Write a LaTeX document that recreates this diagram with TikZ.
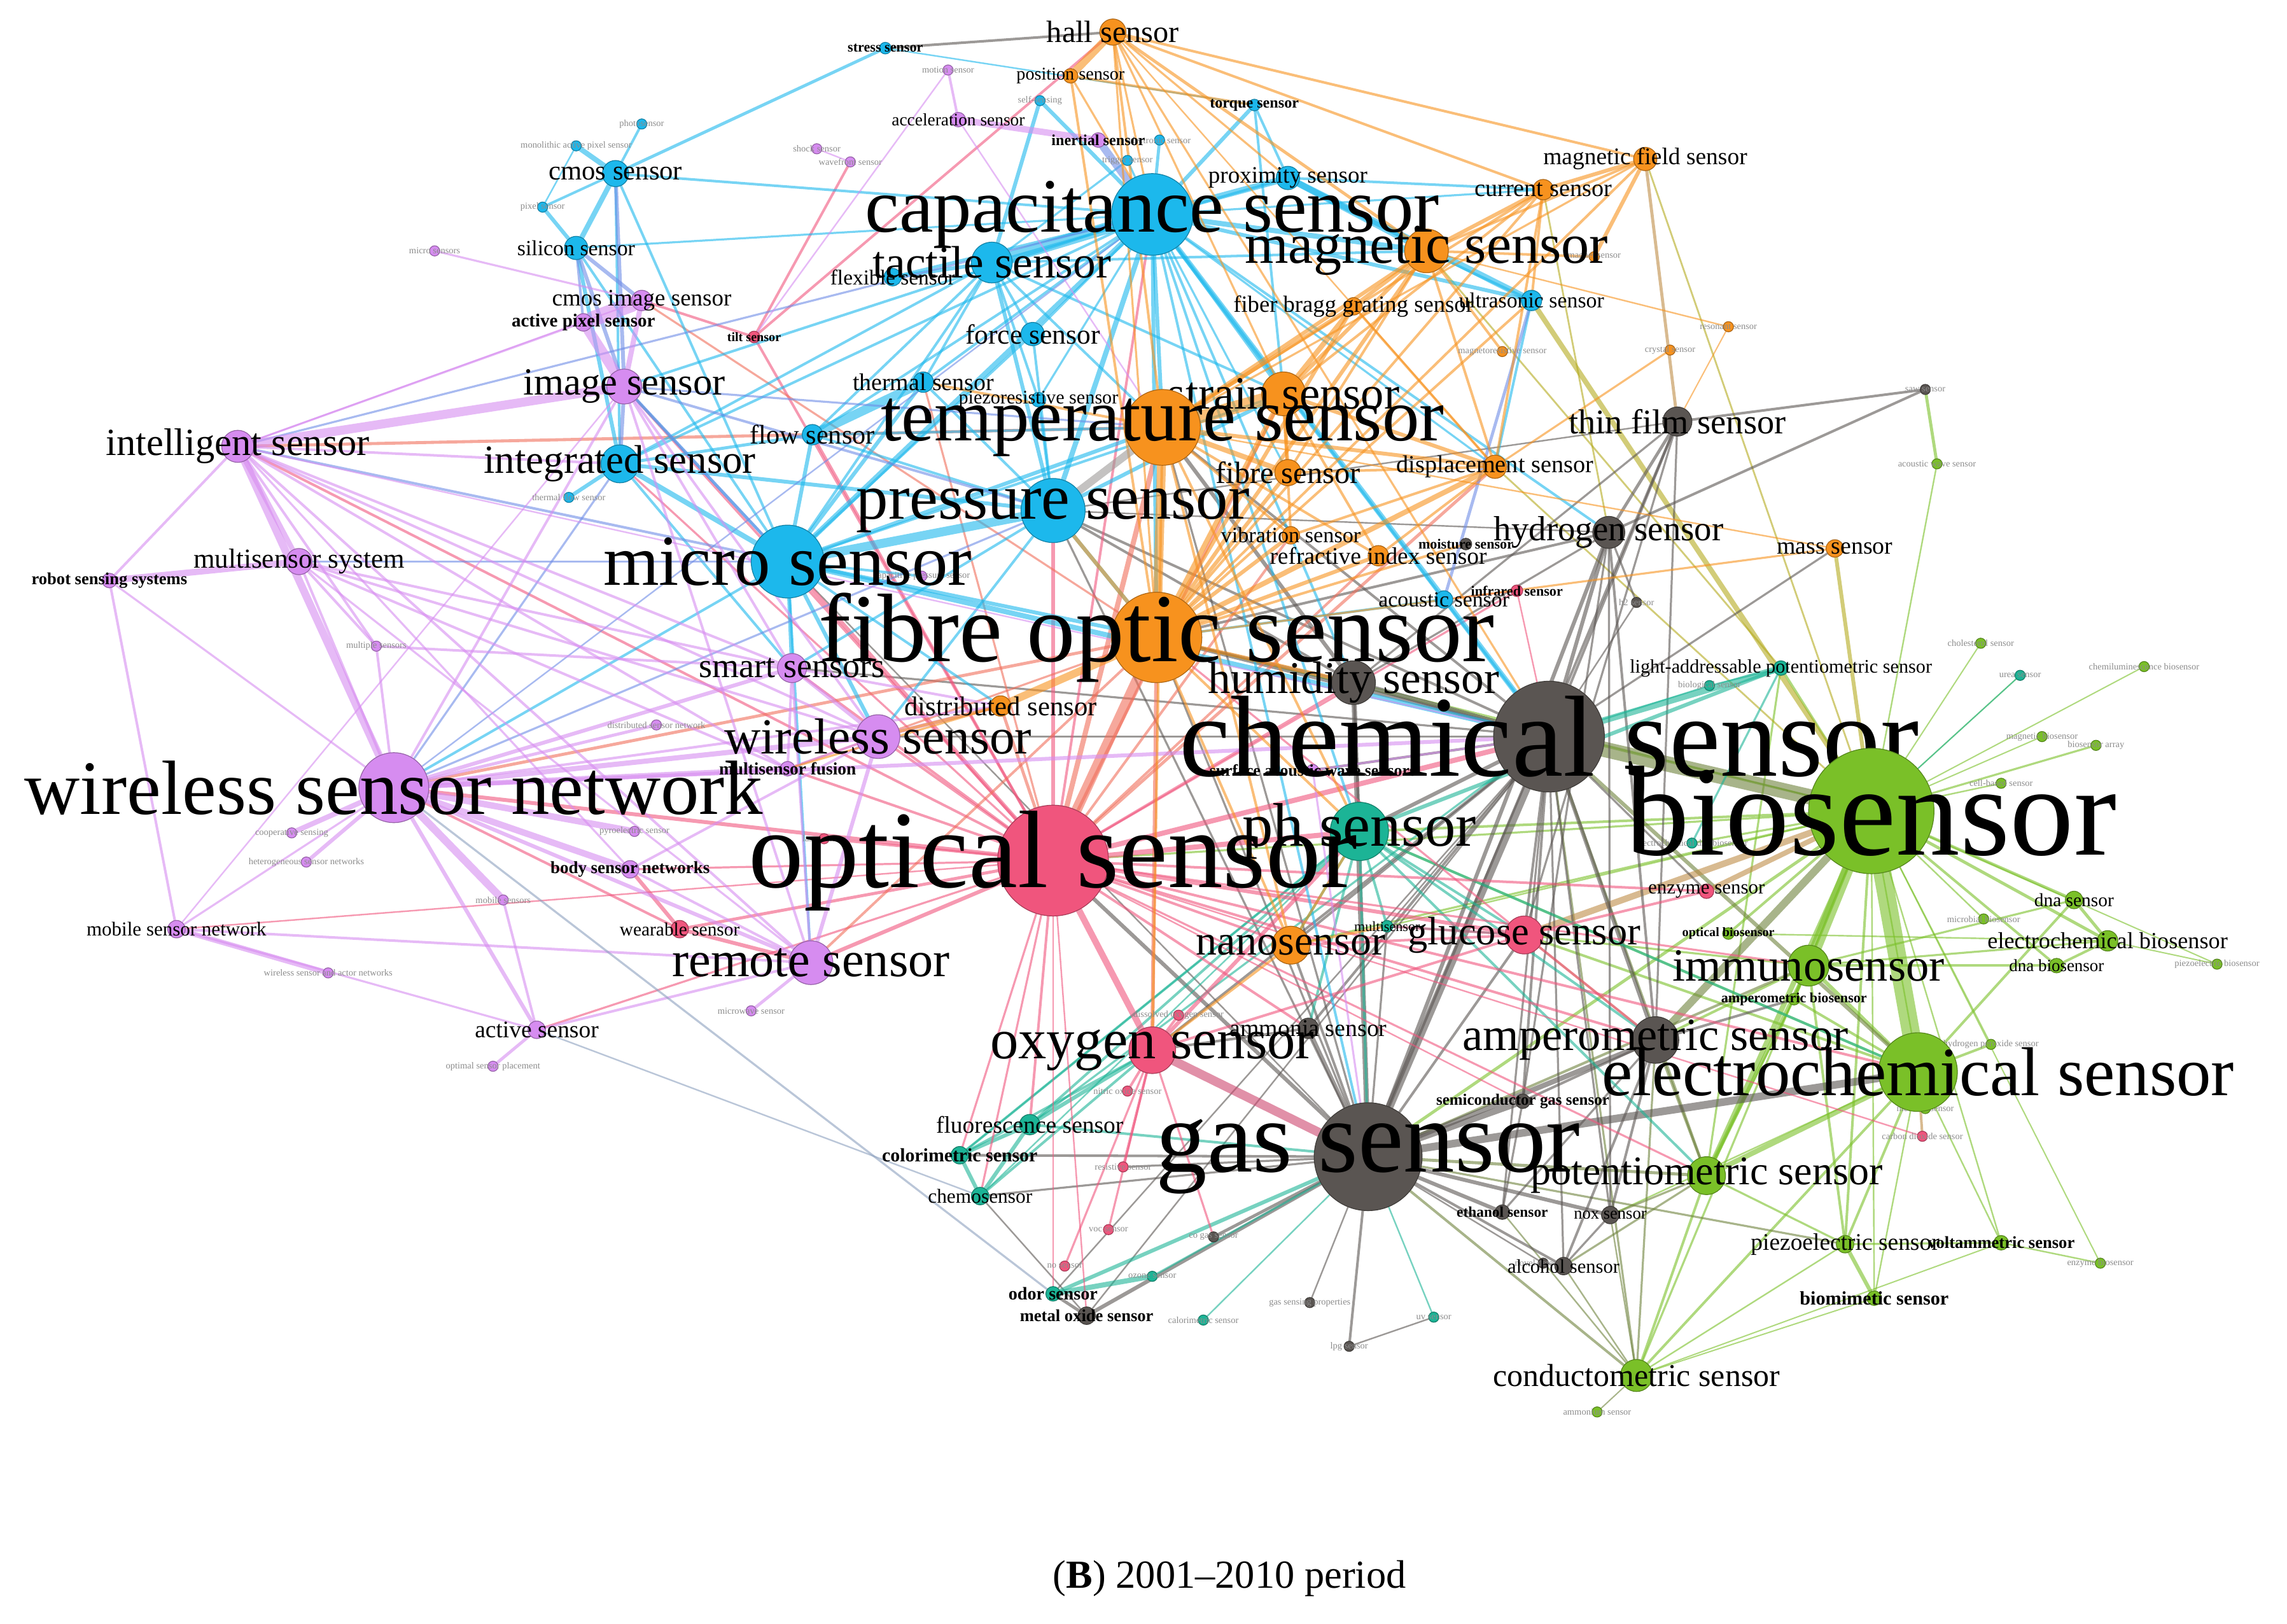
\documentclass[tikz,border=0pt]{standalone}
\usepackage{fontspec}
\setmainfont{Liberation Serif}
\usetikzlibrary{backgrounds}
\definecolor{cB}{RGB}{28,184,236}
\definecolor{cO}{RGB}{247,146,30}
\definecolor{cV}{RGB}{214,140,240}
\definecolor{cP}{RGB}{240,85,125}
\definecolor{cPd}{RGB}{205,70,110}
\definecolor{cG}{RGB}{90,85,82}
\definecolor{cT}{RGB}{28,180,150}
\definecolor{cL}{RGB}{122,192,40}
\definecolor{cY}{RGB}{180,170,30}
\definecolor{cBr}{RGB}{190,140,70}
\definecolor{cBV}{RGB}{110,140,230}
\definecolor{cOl}{RGB}{110,130,60}
\definecolor{cR}{RGB}{240,110,90}
\definecolor{cSt}{RGB}{140,160,190}
\tikzset{
  vtx/.style={circle, inner sep=0pt, line width=0.3pt},
  lbl/.style={inner sep=0pt, text=black, anchor=center},
  tinylbl/.style={inner sep=0pt, text=black!45, anchor=center, font=\fontsize{3.6pt}{4pt}\selectfont},
  edge/.style={draw opacity=0.6, line cap=round},
}
\newcommand\nn[7]{%
  \node[vtx, fill=#4, draw=#4!70!black, minimum size=#5*0.04cm] (#1) at (#2,#3) {};
  \node[lbl, font=\fontsize{#6pt}{#6pt}\selectfont] (#1-l) at (#2,#3) {#7};}
\newcommand\tn[5]{%
  \node[vtx, fill=#4, draw=#4!70!black, minimum size=0.14cm] (#1) at (#2,#3) {};
  \node[tinylbl] (#1-l) at (#2,#3) {#5};}
\begin{document}
\begin{tikzpicture}[x=0.02cm,y=-0.02cm]
\useasboundingbox (0,0) rectangle (1568,1113);
% ---------- tiny nodes ----------
\tn{photo}{440}{85}{cB}{photosensor}
\tn{mono}{395}{100}{cB}{monolithic active pixel sensor}
\tn{pixel}{372}{142}{cB}{pixel sensor}
\tn{microsph}{298}{172}{cV}{micro sensors}
\tn{motion}{650}{48}{cV}{motion sensor}
\tn{selfs}{713}{69}{cB}{self-sensing}
\tn{wave}{583}{111}{cV}{wavefront sensor}
\tn{shock}{560}{102}{cV}{shock sensor}
\tn{elec}{795}{96}{cB}{electronic sensor}
\tn{trig}{773}{110}{cB}{trigger sensor}
\tn{tfs}{390}{341}{cB}{thermal flow sensor}
\tn{multiple}{258}{443}{cV}{multiple sensors}
\tn{distnet}{450}{497}{cV}{distributed sensor network}
\tn{pyro}{435}{570}{cV}{pyroelectric sensor}
\tn{coop}{200}{571}{cV}{cooperative sensing}
\tn{hetero}{210}{591}{cV}{heterogeneous sensor networks}
\tn{mobsens}{345}{617}{cV}{mobile sensors}
\tn{wsan}{225}{667}{cV}{wireless sensor and actor networks}
\tn{optplace}{338}{731}{cV}{optimal sensor placement}
\tn{microwave}{515}{693}{cV}{microwave sensor}
\tn{laser}{565}{575}{cP}{laser sensor}
\tn{capacit}{632}{395}{cV}{capacitive pressure sensor}
\tn{dissox}{808}{696}{cP}{dissolved oxygen sensor}
\tn{nitric}{773}{748}{cP}{nitric oxide sensor}
\tn{resist}{770}{800}{cP}{resistive sensor}
\tn{voc}{760}{843}{cP}{voc sensor}
\tn{nosens}{730}{868}{cP}{no sensor}
\tn{cogas}{832}{848}{cG}{co gas sensor}
\tn{ozone}{790}{875}{cT}{ozone sensor}
\tn{calori}{825}{905}{cT}{calorimetric sensor}
\tn{gsp}{898}{893}{cG}{gas sensing properties}
\tn{uv}{983}{903}{cT}{uv sensor}
\tn{lpg}{925}{923}{cG}{lpg sensor}
\tn{nanost}{1058}{866}{cG}{novel detection}
\tn{magsm}{1093}{176}{cO}{magnet sensor}
\tn{magres}{1030}{241}{cO}{magnetoresistive sensor}
\tn{crystal}{1145}{240}{cO}{crystal sensor}
\tn{reson}{1185}{224}{cO}{resonant sensor}
\tn{saw}{1320}{267}{cG}{saw sensor}
\tn{acwave}{1328}{318}{cL}{acoustic wave sensor}
\tn{h2}{1122}{413}{cG}{h2 sensor}
\tn{biol}{1172}{470}{cT}{biological sensor}
\tn{chol}{1358}{441}{cL}{cholesterol sensor}
\tn{urea}{1385}{463}{cT}{urea sensor}
\tn{chemil}{1470}{457}{cL}{chemiluminescence biosensor}
\tn{magnbio}{1400}{505}{cL}{magnetic biosensor}
\tn{arr}{1437}{511}{cL}{biosensor array}
\tn{cellb}{1372}{537}{cL}{cell-based sensor}
\tn{ecdna}{1160}{578}{cT}{electrochemical dna biosensor}
\tn{micbio}{1360}{630}{cL}{microbial biosensor}
\tn{piezobio}{1520}{661}{cL}{piezoelectric biosensor}
\tn{h2o2}{1365}{716}{cL}{hydrogen peroxide sensor}
\tn{meth}{1320}{760}{cL}{methane sensor}
\tn{co2}{1318}{779}{cP}{carbon dioxide sensor}
\tn{enzbio}{1440}{866}{cL}{enzyme biosensor}
\tn{ammonium}{1095}{968}{cL}{ammonium sensor}
% ---------- small nodes ----------
\nn{hall}{763}{22}{cO}{9}{12}{hall sensor}
\nn{pos}{734}{52}{cO}{5}{7}{position sensor}
\nn{stress}{607}{33}{cB}{4}{5.5}{\bfseries stress sensor}
\nn{accel}{657}{82}{cV}{5}{6.8}{acceleration sensor}
\nn{inert}{753}{96}{cV}{5}{6}{\bfseries inertial sensor}
\nn{torque}{860}{72}{cB}{4}{6}{\bfseries torque sensor}
\nn{prox}{883}{122}{cB}{8}{9.2}{proximity sensor}
\nn{current}{1058}{130}{cO}{7}{9.5}{current sensor}
\nn{magfield}{1128}{109}{cO}{8}{9.3}{magnetic field sensor}
\nn{cmos}{422}{119}{cB}{9}{10.6}{cmos sensor}
\nn{silicon}{395}{170}{cB}{8}{8.4}{silicon sensor}
\nn{cmosimg}{440}{206}{cV}{7}{9.2}{cmos image sensor}
\nn{aps}{400}{221}{cV}{6}{7.2}{\bfseries active pixel sensor}
\nn{flex}{612}{190}{cB}{6}{8.3}{flexible sensor}
\nn{force}{708}{229}{cB}{8}{10.8}{force sensor}
\nn{tilt}{517}{231}{cP}{4}{5}{\bfseries tilt sensor}
\nn{thermal}{633}{262}{cB}{7}{9.4}{thermal sensor}
\nn{piezores}{712}{274}{cB}{5}{7.5}{piezoresistive sensor}
\nn{flow}{557}{298}{cB}{7}{10.5}{flow sensor}
\nn{fbg}{928}{210}{cO}{6}{9.1}{fiber bragg grating sensor}
\nn{ultra}{1050}{206}{cB}{7}{8.4}{ultrasonic sensor}
\nn{fibre}{883}{324}{cO}{9}{12}{fibre sensor}
\nn{disp}{1025}{320}{cO}{8}{9.5}{displacement sensor}
\nn{vib}{885}{367}{cO}{6}{8.5}{vibration sensor}
\nn{refr}{945}{381}{cO}{7}{9.3}{refractive index sensor}
\nn{moist}{1005}{373}{cG}{4}{5.5}{\bfseries moisture sensor}
\nn{mass}{1258}{376}{cO}{6}{9.4}{mass sensor}
\nn{acou}{990}{411}{cB}{6}{8.4}{acoustic sensor}
\nn{infra}{1040}{405}{cP}{4}{5.5}{\bfseries infrared sensor}
\nn{laps}{1221}{458}{cT}{5}{7.5}{light-addressable potentiometric sensor}
\nn{dist}{686}{484}{cO}{7}{10.6}{distributed sensor}
\nn{saws}{900}{528}{cV}{4}{6.4}{\bfseries surface acoustic wave sensors}
\nn{msfus}{540}{527}{cV}{5}{6.8}{\bfseries multisensor fusion}
\nn{bsn}{432}{596}{cV}{6}{6.7}{\bfseries body sensor networks}
\nn{wear}{466}{637}{cP}{6}{7.3}{wearable sensor}
\nn{msn}{121}{637}{cV}{6}{7.7}{mobile sensor network}
\nn{active}{368}{706}{cV}{6}{9.3}{active sensor}
\nn{robot}{75}{398}{cV}{5}{6.6}{\bfseries robot sensing systems}
\nn{enz}{1170}{611}{cP}{5}{7.7}{enzyme sensor}
\nn{dnas}{1422}{617}{cL}{6}{7.3}{dna sensor}
\nn{ecbio}{1445}{645}{cL}{7}{9}{electrochemical biosensor}
\nn{dnabio}{1410}{662}{cL}{5}{6.7}{dna biosensor}
\nn{ampbio}{1230}{685}{cL}{4}{5.5}{\bfseries amperometric biosensor}
\nn{optbio}{1185}{640}{cL}{4}{5}{\bfseries optical biosensor}
\nn{multis}{951}{635}{cT}{4}{5.5}{multisensor}
\nn{ammo}{897}{705}{cG}{7}{9.4}{ammonia sensor}
\nn{fluor}{706}{771}{cT}{7}{9.3}{fluorescence sensor}
\nn{color}{658}{792}{cT}{6}{7.4}{\bfseries colorimetric sensor}
\nn{chemo}{672}{820}{cT}{6}{7.8}{chemosensor}
\nn{semi}{1044}{755}{cG}{5}{6.2}{\bfseries semiconductor gas sensor}
\nn{ethanol}{1030}{831}{cG}{5}{5.8}{\bfseries ethanol sensor}
\nn{nox}{1104}{833}{cG}{6}{6.6}{nox sensor}
\nn{alco}{1072}{868}{cG}{6}{7.6}{alcohol sensor}
\nn{odor}{722}{887}{cT}{5}{7}{\bfseries odor sensor}
\nn{mox}{745}{902}{cG}{6}{6.6}{\bfseries metal oxide sensor}
\nn{piezoel}{1265}{853}{cL}{6}{9.3}{piezoelectric sensor}
\nn{volt}{1372}{852}{cL}{5}{6.6}{\bfseries voltammetric sensor}
\nn{biomim}{1285}{890}{cL}{5}{7.5}{\bfseries biomimetic sensor}
% ---------- medium / large nodes ----------
\nn{mss}{205}{385}{cV}{9}{10.7}{multisensor system}
\nn{smart}{543}{458}{cV}{10}{13.4}{smart sensors}
\nn{img}{428}{265}{cV}{12}{15}{image sensor}
\nn{intel}{163}{306}{cV}{11}{15}{intelligent sensor}
\nn{integ}{425}{318}{cB}{13}{15.6}{integrated sensor}
\nn{tact}{680}{180}{cB}{14}{17.7}{tactile sensor}
\nn{thin}{1150}{289}{cG}{10}{13.5}{thin film sensor}
\nn{hyd}{1103}{365}{cG}{11}{13.6}{hydrogen sensor}
\nn{cond}{1122}{943}{cL}{11}{12.4}{conductometric sensor}
\nn{nano}{885}{648}{cO}{13}{16.4}{nanosensor}
\nn{gluc}{1045}{641}{cP}{13}{15.5}{glucose sensor}
\nn{immuno}{1240}{662}{cL}{14}{18}{immunosensor}
\nn{pot}{1170}{806}{cL}{13}{15.9}{potentiometric sensor}
\nn{amp}{1135}{713}{cG}{16}{18}{amperometric sensor}
\nn{strain}{880}{270}{cO}{15}{18}{strain sensor}
\nn{mag}{978}{172}{cO}{15}{21.9}{magnetic sensor}
\nn{hum}{928}{468}{cG}{15}{17.7}{humidity sensor}
\nn{wsens}{602}{505}{cV}{15}{19.7}{wireless sensor}
\nn{remote}{556}{660}{cV}{15}{19.4}{remote sensor}
\nn{oxy}{790}{720}{cP}{16}{22}{oxygen sensor}
\nn{ph}{932}{570}{cT}{20}{24}{ph sensor}
\nn{press}{722}{350}{cB}{22}{25}{pressure sensor}
\nn{micro}{540}{385}{cB}{25}{28}{micro sensor}
\nn{wsn}{270}{540}{cV}{24}{30}{wireless sensor network}
\nn{echem}{1315}{735}{cL}{27}{27}{electrochemical sensor}
\nn{cap}{790}{147}{cB}{28}{30}{capacitance sensor}
\nn{temp}{797}{293}{cO}{26}{29}{temperature sensor}
\nn{fos}{793}{437}{cO}{31}{38}{fibre optic sensor}
\nn{gas}{938}{793}{cG}{37}{40}{gas sensor}
\nn{opt}{722}{590}{cP}{38}{43}{optical sensor}
\nn{chem}{1062}{505}{cG}{38}{45}{chemical sensor}
\nn{bio}{1283}{556}{cL}{43}{50}{biosensor}
% caption
\node[lbl, font=\fontsize{15.5pt}{18pt}\selectfont] (caption) at (843,1082) {(\textbf{B}) 2001–2010 period};
% ---------- edges ----------
\begin{scope}[on background layer]
\foreach \a/\b/\w in {bio/echem/7, bio/immuno/4.5, bio/pot/2, bio/dnas/1.2, bio/ecbio/1.2, bio/dnabio/1, bio/ampbio/1, bio/optbio/1, bio/laps/1, bio/cond/0.8, bio/piezoel/1, bio/biomim/0.6, bio/meth/0.6, bio/arr/0.8, bio/cellb/0.6, bio/micbio/0.6, bio/chemil/0.5, bio/urea/0.5, bio/magnbio/0.5, bio/piezobio/0.5, bio/h2o2/0.5, bio/volt/0.6, bio/acwave/0.6, bio/chol/0.5, bio/ecdna/0.8, bio/gas/1.2, bio/ph/1, bio/opt/0.8, bio/nano/0.8, bio/hum/0.6, bio/fos/0.8, bio/multis/0.6, bio/enzbio/0.5, echem/pot/2, echem/immuno/1.5, echem/cond/1, echem/piezoel/1, echem/h2o2/1, echem/meth/1, echem/dnas/1, echem/gluc/1, echem/ampbio/1, echem/volt/0.6, echem/biomim/0.6, echem/ph/1, echem/nox/0.6, immuno/ampbio/1, immuno/pot/1.5, immuno/dnabio/1, immuno/dnas/0.8, immuno/piezoel/1, immuno/gluc/0.8, immuno/ecbio/0.8, immuno/amp/1, ecbio/dnas/1.2, ecbio/dnabio/1, ecbio/piezobio/0.5, ecbio/optbio/0.6, pot/cond/1, pot/piezoel/0.8, pot/laps/0.8, pot/ampbio/0.8, piezoel/biomim/1.5, piezoel/volt/0.8, volt/enzbio/0.6, piezoel/cond/0.6, volt/cond/0.5, biomim/cond/0.5, saw/acwave/1.2}
  \draw[edge, draw=cL, line width=\w pt] (\a) -- (\b);
\foreach \a/\b/\w in {bio/chem/6, bio/amp/3, cond/gas/1, cond/chem/0.8, cond/amp/0.8, cond/alco/0.6, cond/nox/0.6, cond/ethanol/0.6, cond/ammonium/0.5, pot/gas/1.2, pot/chem/1, chem/echem/1.5, pot/amp/1, pot/nox/0.8, pot/alco/0.8, gas/piezoel/0.8, gas/immuno/1}
  \draw[edge, draw=cOl, line width=\w pt] (\a) -- (\b);
\foreach \a/\b/\w in {bio/gluc/2.5, bio/enz/2, echem/co2/1, amp/gluc/0.8, thin/magfield/1.2}
  \draw[edge, draw=cBr, line width=\w pt] (\a) -- (\b);
\foreach \a/\b/\w in {ultra/bio/2, magfield/bio/0.7, mass/bio/1.5, disp/bio/0.7, current/hyd/0.7, mag/laps/0.7}
  \draw[edge, draw=cY, line width=\w pt] (\a) -- (\b);
\foreach \a/\b/\w in {gas/echem/3, chem/gas/3, chem/hum/2, chem/hyd/1.5, chem/thin/1, chem/amp/1.5, chem/ph/1.5, chem/fos/1.5, chem/temp/1, chem/press/1, chem/gluc/1, chem/nano/1, chem/oxy/1, chem/ammo/1, chem/semi/1, chem/saws/1, chem/mass/0.8, chem/ethanol/0.8, chem/nox/0.8, chem/alco/0.8, chem/multis/0.6, chem/smart/0.8, chem/wsens/0.8, chem/h2/0.6, chem/enz/0.8, chem/mox/0.6, chem/odor/0.6, gas/hum/2, gas/hyd/1.5, gas/amp/2, gas/semi/2.5, gas/ammo/1.5, gas/ethanol/1.5, gas/nox/1.5, gas/alco/1, gas/mox/1.5, gas/lpg/1, gas/color/1, gas/chemo/0.8, gas/opt/1.5, gas/nano/1, gas/thin/1, gas/gluc/1, gas/multis/0.8, gas/temp/0.8, gas/fos/0.8, gas/cogas/1.2, gas/gsp/0.6, gas/nanost/0.6, gas/press/0.8, gas/micro/0.6, gas/resist/0.8, amp/ampbio/1, amp/hyd/1, amp/semi/1, amp/nox/1, amp/alco/1, amp/ethanol/0.8, amp/thin/0.8, hyd/thin/1.2, hyd/hum/0.8, hyd/fos/1, hyd/press/0.6, hyd/semi/0.8, hyd/nox/0.8, hyd/saw/1, thin/saw/1, hyd/h2/0.8, thin/hum/0.8, thin/press/0.6, thin/gluc/0.8, hum/temp/1.5, hum/press/1, hum/ph/1, hum/fos/1, ammo/oxy/1, semi/ethanol/0.8, nox/alco/0.8, mox/odor/1.2, mox/chemo/0.6, lpg/uv/0.6, hall/stress/1, nanost/alco/0.5}
  \draw[edge, draw=cG, line width=\w pt] (\a) -- (\b);
\foreach \a/\b/\w in {ph/fluor/1, ph/color/1, ph/ammo/1, ph/laps/1.5, ph/pot/1, ph/amp/1, ph/multis/1, ph/gluc/1, ph/nano/1, ph/echem/1, ph/gas/1, laps/chem/2.5, laps/ecdna/0.8, laps/biol/0.6, fluor/color/1.5, fluor/chemo/1.5, color/chemo/1.5, fluor/oxy/1.5, color/oxy/1, chemo/oxy/1, fluor/gas/1, odor/gas/1.5, odor/ozone/2, ozone/gas/0.8, calori/gas/0.6, uv/gas/0.6, multis/gluc/0.8, biol/chem/0.6, fluor/chem/0.8, chemo/ph/0.6, color/ph/0.6, urea/bio/0.5}
  \draw[edge, draw=cT, line width=\w pt] (\a) -- (\b);
\foreach \a/\b/\w in {opt/oxy/2.5, opt/ph/2, opt/gluc/1.5, opt/chem/2, opt/wsn/1.5, opt/press/1.5, opt/micro/1.5, opt/remote/1.5, opt/wsens/1, opt/intel/1, opt/img/1, opt/cap/1, opt/smart/1, opt/nano/1, opt/hum/1, opt/fluor/1, opt/color/0.8, opt/chemo/0.8, opt/ammo/1, opt/amp/1, opt/echem/1, opt/immuno/0.8, opt/active/0.8, opt/wear/1.2, opt/bsn/0.8, opt/msfus/1, opt/tilt/1, opt/flow/1, opt/integ/0.8, opt/mox/0.6, opt/odor/0.6, opt/pot/0.8, opt/co2/0.6, opt/semi/0.6, opt/laser/1, opt/enz/1, opt/infra/0.8, opt/msn/0.6, oxy/ph/1.5, oxy/nitric/1, oxy/resist/1, oxy/voc/0.8, oxy/nosens/0.8, oxy/gluc/1, oxy/dissox/1, oxy/cogas/0.8, gluc/enz/1, gluc/amp/1, gluc/nano/1, gluc/multis/1, gluc/fos/0.8, wear/bsn/1.5, wear/remote/1.5, wear/wsn/1, tilt/cmosimg/1, tilt/wave/1, hall/tilt/1, infra/acou/0.6, infra/chem/0.6}
  \draw[edge, draw=cP, line width=\w pt] (\a) -- (\b);
\draw[edge, draw=cPd, line width=3.5pt] (oxy) -- (gas);
\foreach \a/\b/\w in {opt/fos/4, opt/temp/2, opt/strain/1.2, opt/disp/1.2, opt/vib/1, opt/refr/1, opt/dist/1.2, opt/thermal/0.8, intel/temp/1.2, cmosimg/fos/0.8, wsn/fos/1.2, msfus/fos/0.8, remote/fos/1, oxy/fos/1.5}
  \draw[edge, draw=cR, line width=\w pt] (\a) -- (\b);
\foreach \a/\b/\w in {cap/tact/4.5, cap/press/2, cap/micro/2, cap/prox/2.5, cap/mag/2, cap/temp/1.5, cap/fos/1.5, cap/torque/1.5, cap/selfs/1.5, cap/force/1, cap/flex/1.2, cap/thermal/1, cap/strain/1, cap/hum/1, cap/ultra/1.5, cap/acou/1, cap/integ/1, cap/cmos/1, cap/img/1, cap/current/0.8, cap/fibre/0.8, cap/disp/0.8, cap/trig/0.8, cap/elec/1.2, cap/flow/1, cap/ph/1, cap/gas/1, cap/hyd/1, cap/piezores/0.8, cap/silicon/0.8, tact/flex/1.5, tact/force/1, tact/press/1.5, tact/micro/1, tact/thermal/1, tact/flow/1, tact/integ/1, tact/mag/1, tact/temp/1, tact/piezores/1, tact/strain/1, micro/press/3.5, micro/flow/1.5, micro/thermal/1.5, micro/integ/2, micro/smart/1.5, micro/wsens/1.5, micro/temp/1.5, micro/fos/1.5, micro/img/1, micro/cmos/1, micro/silicon/1, micro/wsn/1, micro/remote/1, micro/dist/1, micro/capacit/1, micro/force/1, micro/strain/1, flow/thermal/3.5, flow/press/1, flow/integ/1.2, flow/temp/1, press/force/1, press/piezores/1, press/thermal/1, press/integ/1.5, press/smart/1, press/wsens/1, press/strain/1.5, press/fos/1.5, cmos/silicon/2, cmos/mono/2, cmos/photo/1, cmos/pixel/1, cmos/integ/1, silicon/pixel/1.5, silicon/integ/1.5, mono/pixel/0.6, integ/tfs/1.5, integ/smart/1, prox/torque/1, prox/mag/2.5, prox/ultra/2.5, prox/current/1, prox/tact/1, torque/strain/1, ultra/mag/1, ultra/disp/1, acou/chem/1, acou/fos/1, stress/cmos/1.2, stress/torque/0.6, selfs/tact/1.5, trig/tact/0.8, chem/micro/2, chem/cap/2}
  \draw[edge, draw=cB, line width=\w pt] (\a) -- (\b);
\foreach \a/\b/\w in {inert/cap/3, intel/micro/1, img/micro/1.2, img/integ/1.5, cmos/img/1.5, silicon/img/1.5, silicon/cmosimg/1.5, silicon/aps/1, wsn/integ/0.8, mss/micro/0.8, ultra/acou/1.2, intel/cap/0.8, wsn/cap/0.6, wsn/press/0.8, img/press/1, img/temp/0.8}
  \draw[edge, draw=cBV, line width=\w pt] (\a) -- (\b);
\foreach \a/\b/\w in {wsn/intel/3, wsn/mss/1, wsn/robot/0.8, wsn/msn/0.8, wsn/active/1.5, wsn/remote/1.5, wsn/wsens/2, wsn/smart/1.5, wsn/msfus/2, wsn/bsn/2.5, wsn/mobsens/3, wsn/pyro/2.5, wsn/coop/2, wsn/hetero/1.5, wsn/img/1, wsn/distnet/1.2, wsn/multiple/1, wsn/chem/1.5, wsn/dist/1, intel/img/3.5, intel/mss/2, intel/robot/1, intel/wsens/1, intel/smart/1, intel/remote/1, intel/multiple/1, intel/integ/1, intel/aps/0.8, intel/msfus/1, intel/bsn/0.8, intel/cmosimg/0.6, intel/chem/0.6, img/aps/4, aps/cmosimg/6, img/cmosimg/2, img/remote/1, img/smart/1, img/wsens/1, img/msn/0.6, microsph/cmosimg/0.8, mss/robot/2.5, mss/msfus/1, mss/smart/1, mss/multiple/1, mss/wsens/1, mss/remote/0.8, msn/robot/1, msn/wsan/2, msn/remote/1, msn/active/0.8, remote/active/1, remote/bsn/1, remote/smart/1, remote/wsens/1.5, remote/microwave/1.2, active/optplace/1.2, active/mobsens/1, wsens/smart/1.5, wsens/dist/1.5, wsens/msfus/1, wsens/bsn/1, smart/msfus/1, smart/multiple/1, smart/dist/1, inert/accel/2.5, accel/motion/1, wave/shock/0.6, accel/temp/0.6, saws/gas/0.8, saws/chem/0.8, motion/tilt/0.6}
  \draw[edge, draw=cV, line width=\w pt] (\a) -- (\b);
\draw[edge, draw=cSt, line width=0.8pt] (wsn) -- (odor);
\draw[edge, draw=cSt, line width=0.6pt] (active) -- (chemo);
\foreach \a/\b/\w in {fos/temp/3.5, fos/strain/2, fos/fibre/1.5, fos/disp/2, fos/vib/1.5, fos/refr/1.5, fos/mag/1.5, fos/fbg/1.5, fos/dist/3, fos/press/1.5, fos/hum/1.5, fos/ph/1, fos/current/1, fos/magfield/1, fos/mass/0.8, fos/nano/1, fos/moist/1, fos/ultra/1, fos/hall/0.8, fos/pos/1, temp/strain/5, temp/fibre/2, temp/disp/1.5, temp/mag/1.5, temp/fbg/1.5, temp/vib/1, temp/refr/1, temp/current/1, temp/thermal/1, temp/ph/1, temp/magfield/0.8, temp/mass/0.6, temp/nano/1, temp/oxy/1, temp/hall/1, strain/fibre/1.5, strain/fbg/2, strain/mag/1.5, strain/disp/1.5, strain/vib/1, strain/current/1, strain/refr/1, strain/hall/0.8, mag/magfield/1, mag/current/1.5, mag/fbg/1.5, mag/magsm/1, mag/disp/1, mag/hall/1.2, mag/fibre/1, mag/magres/1, magfield/current/1.5, magfield/magsm/1.5, magfield/hall/1, hall/pos/3, hall/current/1, hall/cap/0.8, hall/prox/0.8, hall/chem/0.8, hall/disp/0.6, pos/torque/1, pos/cap/0.8, current/ultra/1, current/disp/1, disp/vib/1, disp/refr/1, disp/fibre/1, disp/crystal/0.8, fbg/disp/1, reson/mag/0.6, reson/thin/0.5, nano/multis/1, nano/oxy/1, nano/ph/1, dist/wsens/1.2, dist/msfus/0.8}
  \draw[edge, draw=cO, line width=\w pt] (\a) -- (\b);
\draw[edge, draw=cG!60, line width=3pt] (temp) -- (press);
\end{scope}
\end{tikzpicture}
\end{document}
